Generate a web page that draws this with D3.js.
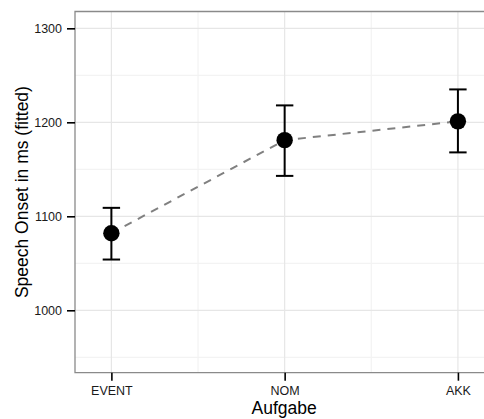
<!DOCTYPE html>
<html>
<head>
<meta charset="utf-8">
<script src="https://cdn.jsdelivr.net/npm/d3@7"></script>
<style>
  body { margin: 0; background: #fff; overflow: hidden; }
  svg { display: block; overflow: hidden; font-family: "Liberation Sans", Arial, Helvetica, sans-serif; }
</style>
</head>
<body>
<div id="chart"></div>
<script>
const categories = ['EVENT', 'NOM', 'AKK'];
const fitted = [1082, 1181, 1201];
const lower = [1054, 1143, 1168];
const upper = [1109, 1218, 1235];
const yTicks = [1000, 1100, 1200, 1300];
const yMinor = [950, 1050, 1150, 1250];

const width = 484;
const height = 419;
const panel = { left: 75, top: 11.5, right: 494.3, bottom: 372.7 };

const svg = d3.select('#chart')
  .append('svg')
  .attr('width', width)
  .attr('height', height);

const x = d3.scalePoint()
  .domain(categories)
  .range([panel.left, panel.right])
  .padding(0.21);

const y = d3.scaleLinear()
  .domain([933.6, 1317.9])
  .range([panel.bottom, panel.top]);

const data = categories.map((c, i) => ({ cat: c, fit: fitted[i], lo: lower[i], hi: upper[i] }));

// panel grid
const grid = svg.append('g');
grid.selectAll('.minor-y')
  .data(yMinor)
  .enter()
  .append('line')
  .attr('x1', panel.left).attr('x2', panel.right)
  .attr('y1', d => y(d)).attr('y2', d => y(d))
  .attr('stroke', '#f3f3f3')
  .attr('stroke-width', 1.2);

// minor verticals sit halfway between categories
const mids = d3.pairs(categories).map(([a, b]) => (x(a) + x(b)) / 2);
grid.selectAll('.minor-x')
  .data(mids)
  .enter()
  .append('line')
  .attr('x1', d => d).attr('x2', d => d)
  .attr('y1', panel.top).attr('y2', panel.bottom)
  .attr('stroke', '#f3f3f3')
  .attr('stroke-width', 1.2);

grid.selectAll('.major-y')
  .data(yTicks)
  .enter()
  .append('line')
  .attr('x1', panel.left).attr('x2', panel.right)
  .attr('y1', d => y(d)).attr('y2', d => y(d))
  .attr('stroke', '#e6e6e6')
  .attr('stroke-width', 1.2);

grid.selectAll('.major-x')
  .data(categories)
  .enter()
  .append('line')
  .attr('x1', d => x(d)).attr('x2', d => x(d))
  .attr('y1', panel.top).attr('y2', panel.bottom)
  .attr('stroke', '#e6e6e6')
  .attr('stroke-width', 1.2);

// dashed connecting line
const line = d3.line()
  .x(d => x(d.cat))
  .y(d => y(d.fit));

svg.append('path')
  .datum(data)
  .attr('d', line)
  .attr('fill', 'none')
  .attr('stroke', '#808080')
  .attr('stroke-width', 2)
  .attr('stroke-dasharray', '8,7');

// error bars
const bars = svg.append('g')
  .selectAll('g')
  .data(data)
  .enter()
  .append('g')
  .attr('stroke', '#000')
  .attr('stroke-width', 2);

bars.append('line')
  .attr('x1', d => x(d.cat)).attr('x2', d => x(d.cat))
  .attr('y1', d => y(d.lo)).attr('y2', d => y(d.hi));
bars.append('line')
  .attr('x1', d => x(d.cat) - 8.7).attr('x2', d => x(d.cat) + 8.7)
  .attr('y1', d => y(d.hi)).attr('y2', d => y(d.hi));
bars.append('line')
  .attr('x1', d => x(d.cat) - 8.7).attr('x2', d => x(d.cat) + 8.7)
  .attr('y1', d => y(d.lo)).attr('y2', d => y(d.lo));

svg.append('g')
  .selectAll('circle')
  .data(data)
  .enter()
  .append('circle')
  .attr('cx', d => x(d.cat))
  .attr('cy', d => y(d.fit))
  .attr('r', 8.2)
  .attr('fill', '#000');

// panel border (right side runs off the canvas, as in the original)
svg.append('path')
  .attr('d', `M${width + 2},${panel.top}H${panel.left}V${panel.bottom}H${width + 2}`)
  .attr('fill', 'none')
  .attr('stroke', '#8a8a8a')
  .attr('stroke-width', 1.3);

// axes
const yAxis = svg.append('g')
  .attr('transform', `translate(${panel.left},0)`)
  .call(d3.axisLeft(y).tickValues(yTicks).tickSize(8).tickPadding(5).tickFormat(d3.format('d')));

const xAxis = svg.append('g')
  .attr('transform', `translate(0,${panel.bottom})`)
  .call(d3.axisBottom(x).tickSize(8).tickPadding(5));

[yAxis, xAxis].forEach(ax => {
  ax.select('.domain').remove();
  ax.selectAll('.tick line').attr('stroke', '#000').attr('stroke-width', 1.6);
  ax.selectAll('.tick text')
    .attr('fill', '#1a1a1a')
    .style('font-size', '12.5px')
    .style('font-family', '"Liberation Sans", Arial, sans-serif');
});

// axis titles
svg.append('text')
  .attr('x', (panel.left + panel.right) / 2 - 0.5)
  .attr('y', 414.2)
  .attr('text-anchor', 'middle')
  .style('font-size', '17.5px')
  .attr('fill', '#000')
  .text('Aufgabe');

svg.append('text')
  .attr('transform', `translate(28,${(panel.top + panel.bottom) / 2}) rotate(-90)`)
  .attr('text-anchor', 'middle')
  .style('font-size', '17.5px')
  .attr('fill', '#000')
  .text('Speech Onset in ms (fitted)');
</script>
</body>
</html>
